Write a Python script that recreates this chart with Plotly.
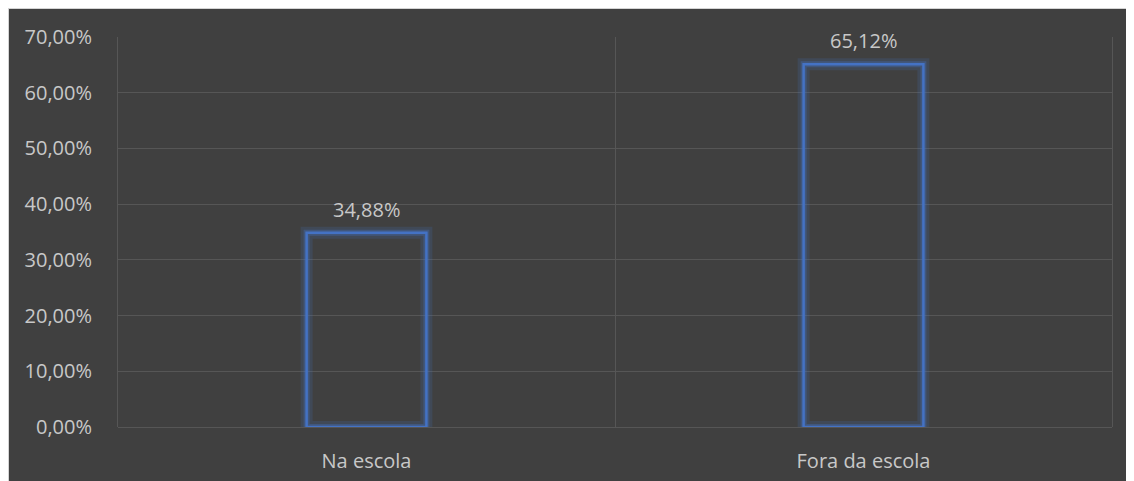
import plotly.graph_objects as go

categories = ["Na escola", "Fora da escola"]
values = [34.88, 65.12]

FONT = "Open Sans"
TXT = "#c8c8c8"
BLUE = "#4472C4"
GRID = "#565656"

fig = go.Figure()
# soft glow around the bar outlines
fig.add_trace(go.Bar(x=categories, y=values, marker=dict(color="rgba(0,0,0,0)",
                     line=dict(color="rgba(68,114,196,0.18)", width=12)),
                     hoverinfo="skip", showlegend=False))
fig.add_trace(go.Bar(x=categories, y=values, marker=dict(color="rgba(0,0,0,0)",
                     line=dict(color="rgba(68,114,196,0.35)", width=6)),
                     hoverinfo="skip", showlegend=False))
fig.add_trace(go.Bar(x=categories, y=values, marker=dict(color="rgba(0,0,0,0)",
                     line=dict(color=BLUE, width=2.5)), showlegend=False))

for c, v in zip(categories, values):
    fig.add_annotation(x=c, y=v, text=f"{v:.2f}".replace(".", ",") + "%",
                       showarrow=False, yanchor="bottom", yshift=8,
                       font=dict(family=FONT, size=20, color=TXT))

W, H = 1134, 481
L, R, T, B = 110, 30, 29, 62

fig.add_shape(type="rect", xref="paper", yref="paper",
              x0=-L / (W - L - R), x1=1 + R / (W - L - R),
              y0=-B / (H - T - B), y1=1 + T / (H - T - B),
              fillcolor="rgba(0,0,0,0)", line=dict(color="#d4d4d4", width=2), layer="below")

fig.update_layout(
    width=W, height=H,
    margin=dict(l=L, r=R, t=T, b=B),
    paper_bgcolor="#404040",
    plot_bgcolor="#404040",
    barmode="overlay",
    bargap=0.759,
    separators=",.",
    font=dict(family=FONT, size=20, color=TXT),
    xaxis=dict(type="category", tickson="boundaries", showgrid=True,
               gridcolor=GRID, gridwidth=1, showline=False,
               ticks="", ticklabelstandoff=20, tickfont=dict(size=20, color=TXT)),
    yaxis=dict(range=[0, 70], dtick=10, tickformat=".2f", ticksuffix="%",
               showgrid=True, gridcolor=GRID, gridwidth=1,
               zeroline=True, zerolinecolor=GRID, zerolinewidth=1,
               showline=True, mirror=True, linecolor=GRID, linewidth=1,
               ticks="", ticklabelstandoff=21,
               tickfont=dict(size=20, color=TXT)),
)

fig.write_html("out.html")
